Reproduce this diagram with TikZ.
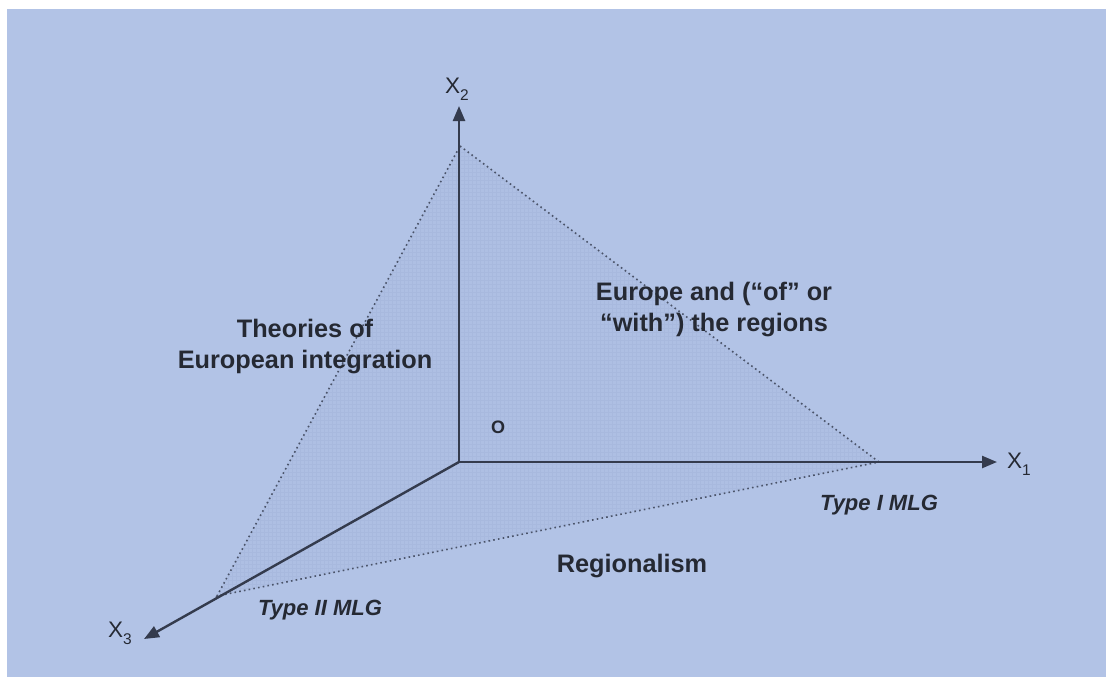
\documentclass[tikz,border=0pt]{standalone}
\usepackage{fontspec}
\setmainfont{Liberation Sans}
\usetikzlibrary{arrows.meta}
\definecolor{bgblue}{HTML}{B2C3E6}
\definecolor{tribg}{HTML}{AEBFE3}
\definecolor{gridc}{HTML}{A4B5DA}
\definecolor{axisc}{HTML}{343B4D}
\definecolor{dotc}{HTML}{4A5369}
\definecolor{inkc}{HTML}{252933}
\tikzset{
  axis/.style={draw=axisc, line width=2.4pt, -{Triangle[length=15pt,width=12pt]}},
  edge/.style={draw=dotc, line width=1.6pt, dash pattern=on 1.6pt off 3.2pt},
  label/.style={text=inkc, inner sep=0pt, font=\bfseries\fontsize{25.3}{31}\selectfont, align=center},
  mlg/.style={text=inkc, inner sep=0pt, font=\bfseries\itshape\fontsize{22}{26}\selectfont},
  axlabel/.style={text=inkc, inner sep=0pt, anchor=base west, font=\fontsize{22.5}{26}\selectfont},
}
\newcommand{\axsub}[1]{\raisebox{-0.33em}{\fontsize{15.5}{18}\selectfont #1}}
\begin{document}
\begin{tikzpicture}[x=1pt,y=-1pt]
  \useasboundingbox (0,0) rectangle (1106,677);
  \fill[white] (0,0) rectangle (1106,677);
  \fill[bgblue] (7,9) rectangle (1106,677);

  % origin, triangle corners and axis ends
  \coordinate (O)  at (459,462);
  \coordinate (A1) at (879,462);
  \coordinate (A2) at (460,146);
  \coordinate (A3) at (217,596);
  \coordinate (E1) at (997,462);
  \coordinate (E2) at (459,106);
  \coordinate (E3) at (144,639);

  % shaded plane with its fine screen
  \fill[tribg] (A1) -- (A2) -- (A3) -- cycle;
  \begin{scope}
    \clip (A1) -- (A2) -- (A3) -- cycle;
    \draw[gridc, line width=0.35pt, opacity=0.5, step=4pt] (200,140) grid (890,600);
  \end{scope}

  % dotted edges of the plane
  \draw[edge] (A2) -- (A1) -- (A3) -- cycle;

  % axes
  \draw[axis] (O) -- (E1);
  \draw[axis] (O) -- (E2);
  \draw[axis] (O) -- (E3);

  \node[axlabel] (x1) at (1007,468) {X\axsub{1}};
  \node[axlabel] (x2) at (445,93) {X\axsub{2}};
  \node[axlabel] (x3) at (108,637) {X\axsub{3}};

  \node[label, font=\bfseries\fontsize{18}{22}\selectfont] (o) at (498,427) {O};

  % multi-line labels: base anchor sits on the last line
  \node[label, anchor=base] (eur) at (714,331) {Europe and (“of” or\\“with”) the regions};
  \node[label, anchor=base] (theo) at (305,368) {Theories of\\European integration};
  \node[label, anchor=base] (reg) at (632,572) {Regionalism};

  \node[mlg, anchor=base] (t1) at (879,510) {Type I MLG};
  \node[mlg, anchor=base] (t2) at (320,615) {Type II MLG};
\end{tikzpicture}
\end{document}
